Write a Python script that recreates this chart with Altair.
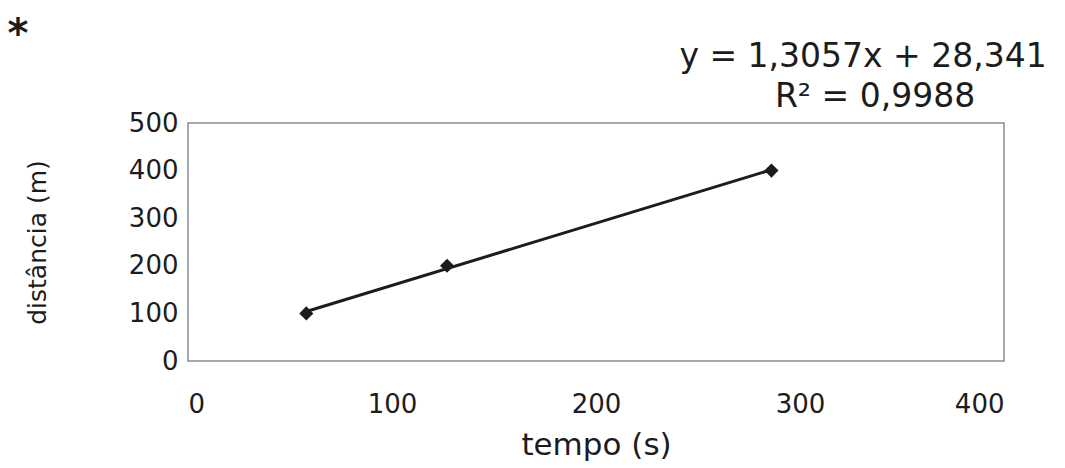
import altair as alt
import numpy as np
import pandas as pd

# Measured runs: time (s) and distance (m)
tempo = [58, 127, 286]
distancia = [100, 200, 400]

x_ticks = [0, 100, 200, 300, 400]
y_ticks = [0, 100, 200, 300, 400, 500]

df = pd.DataFrame({"tempo": tempo, "distancia": distancia})

# Linear least-squares fit and its coefficient of determination
slope, intercept = np.polyfit(tempo, distancia, 1)
r2 = np.corrcoef(tempo, distancia)[0, 1] ** 2
eq_text = f"y = {slope:.4f}x + {intercept:.3f}".replace(".", ",")
r2_text = f"R\u00b2 = {r2:.4f}".replace(".", ",")

FONT = "DejaVu Sans"
INK = "#1c1c1c"

x_enc = alt.X(
    "tempo:Q",
    scale=alt.Scale(domain=[0, 400], nice=False),
    axis=alt.Axis(values=x_ticks, title="tempo (s)", labelPadding=30,
                  titlePadding=13, labelFontSize=26, titleFontSize=31),
)
y_enc = alt.Y(
    "distancia:Q",
    scale=alt.Scale(domain=[0, 500], nice=False),
    axis=alt.Axis(values=y_ticks, title="distância (m)", labelPadding=10,
                  titlePadding=78, labelFontSize=26, titleFontSize=25),
)

points = alt.Chart(df).mark_point(
    shape="diamond", filled=True, size=200, color=INK, opacity=1
).encode(x=x_enc, y=y_enc)

trend = alt.Chart(df).transform_regression(
    "tempo", "distancia", method="linear"
).mark_line(color=INK, strokeWidth=3).encode(
    x="tempo:Q", y="distancia:Q"
)

eq = alt.Chart(pd.DataFrame({"txt": [eq_text]})).mark_text(
    font=FONT, fontSize=33, color=INK, align="center", baseline="middle"
).encode(text="txt:N", x=alt.value(675), y=alt.value(-66))
r2t = alt.Chart(pd.DataFrame({"txt": [r2_text]})).mark_text(
    font=FONT, fontSize=33, color=INK, align="center", baseline="middle"
).encode(text="txt:N", x=alt.value(687), y=alt.value(-26))

star = alt.Chart(pd.DataFrame({"txt": ["*"]})).mark_text(
    font=FONT, fontSize=40, fontWeight="bold", color=INK, align="center",
    baseline="alphabetic"
).encode(text="txt:N", x=alt.value(-170), y=alt.value(-76))

chart = (
    alt.layer(trend, points, eq, r2t, star)
    .properties(
        width=816,
        height=238,
        autosize=alt.AutoSizeParams(type="none"),
        padding={"left": 188, "top": 123, "right": 61, "bottom": 107},
        background="white",
    )
    .configure_view(stroke="#8c8c8c", strokeWidth=1.5)
    .configure_axis(
        grid=False,
        domain=False,
        ticks=False,
        labelFont=FONT,
        labelColor=INK,
        titleFont=FONT,
        titleColor=INK,
        titleFontWeight="normal",
    )
)

chart.save("out.html", embed_options={"renderer": "svg", "actions": False})
